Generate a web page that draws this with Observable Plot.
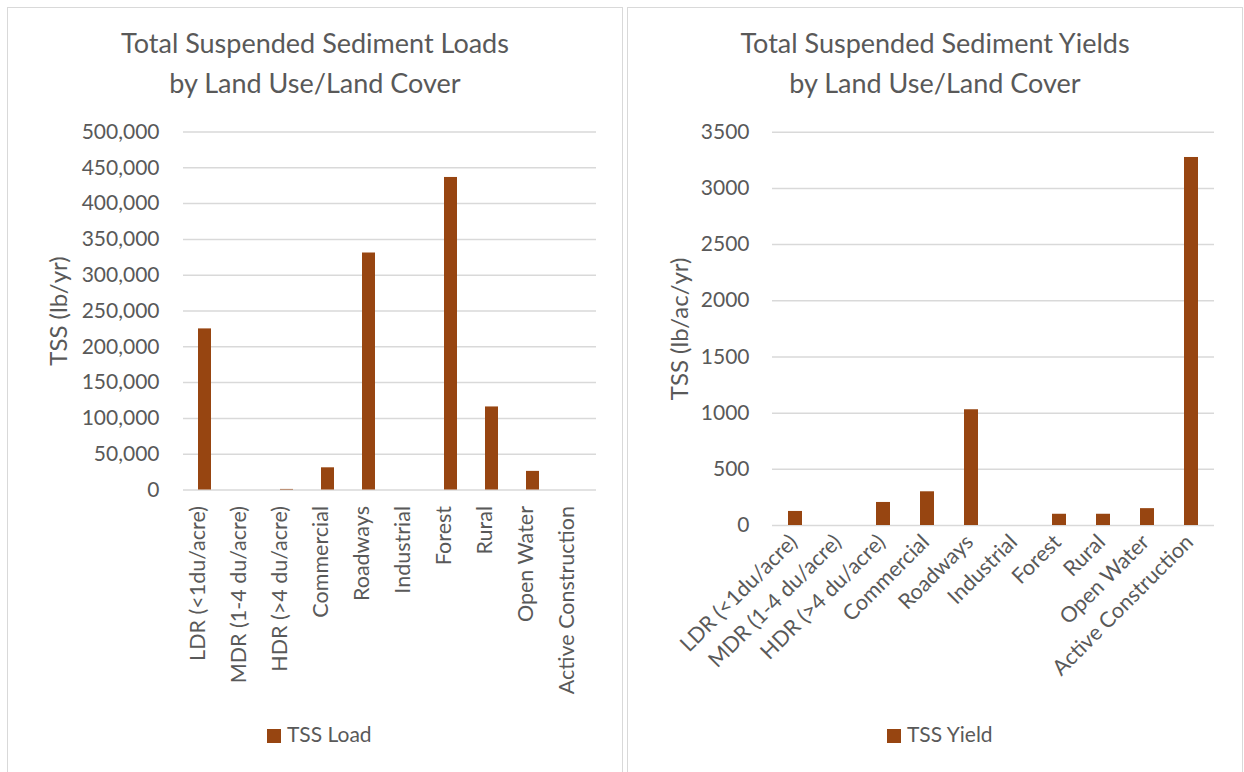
<!DOCTYPE html>
<html>
<head>
<meta charset="utf-8">
<script src="https://cdn.jsdelivr.net/npm/d3@7"></script>
<script src="https://cdn.jsdelivr.net/npm/@observablehq/plot@0.6"></script>
<style>
  html, body { margin: 0; padding: 0; background: #fff; }
  #root { position: relative; width: 1244px; height: 772px; overflow: hidden; font-family: Lato, "Open Sans", sans-serif; color: #595959; }
  .panel { position: absolute; top: 7px; width: 616px; height: 800px; box-sizing: border-box; border: 1px solid #d9d9d9; }
  .title { position: absolute; top: 22.5px; width: 616px; text-align: center; font-size: 27px; line-height: 40px; color: #595959; }
  .chart { position: absolute; top: 0; }
  .legend { position: absolute; top: 724px; font-size: 21px; line-height: 20px; color: #595959; white-space: nowrap; }
  .legend .sw { position: absolute; left: 0; top: 5px; width: 14px; height: 14px; }
  .legend .lb { position: absolute; left: 20px; top: 0; }
</style>
</head>
<body>
<div id="root">
  <div class="panel" style="left:7px"></div>
  <div class="panel" style="left:627px"></div>
  <div class="title" style="left:7px">Total Suspended Sediment Loads<br>by Land Use/Land Cover</div>
  <div class="title" style="left:627px">Total Suspended Sediment Yields<br>by Land Use/Land Cover</div>
  <div class="chart" id="left" style="left:0px"></div>
  <div class="chart" id="right" style="left:622px"></div>
  <div class="legend" style="left:267px"><span class="sw" id="sw1"></span><span class="lb">TSS Load</span></div>
  <div class="legend" style="left:887px"><span class="sw" id="sw2"></span><span class="lb">TSS Yield</span></div>
</div>
<script>
const categories = ["LDR (<1du/acre)", "MDR (1-4 du/acre)", "HDR (>4 du/acre)", "Commercial", "Roadways", "Industrial", "Forest", "Rural", "Open Water", "Active Construction"];
const loadValues = [225000, 0, 800, 31000, 331000, 0, 436500, 116000, 26000, 0];
const yieldValues = [125, 0, 205, 300, 1030, 0, 100, 100, 150, 3275];
const loadTicks = [0, 50000, 100000, 150000, 200000, 250000, 300000, 350000, 400000, 450000, 500000];
const yieldTicks = [0, 500, 1000, 1500, 2000, 2500, 3000, 3500];
const seriesNames = ["TSS Load", "TSS Yield"];
const axisTitles = ["TSS (lb/yr)", "TSS (lb/ac/yr)"];

const barColor = "#974511";
const gridColor = "#d9d9d9";
const textColor = "#595959";

document.getElementById("sw1").style.background = barColor;
document.getElementById("sw2").style.background = barColor;

const loadData = categories.map((c, i) => ({cat: c, value: loadValues[i]}));
const yieldData = categories.map((c, i) => ({cat: c, value: yieldValues[i]}));

const style = {fontFamily: "Lato, 'Open Sans', sans-serif", fontSize: "21px", color: textColor, background: "transparent", overflow: "visible"};

const leftPlot = Plot.plot({
  width: 622, height: 772,
  marginLeft: 183, marginRight: 26, marginTop: 131.5, marginBottom: 282.5,
  style,
  x: {domain: categories, paddingInner: 0.68, paddingOuter: 0.34, axis: null},
  y: {domain: [0, 500000], axis: null},
  marks: [
    Plot.ruleY(loadTicks, {stroke: gridColor, strokeWidth: 1.5}),
    Plot.barY(loadData, {x: "cat", y: "value", fill: barColor}),
    Plot.axisY({ticks: loadTicks, tickSize: 0, tickPadding: 24, tickFormat: d3.format(","), label: null, fontSize: 21, fill: textColor}),
    Plot.text(categories, {x: d => d, frameAnchor: "bottom", rotate: -90, textAnchor: "end", dy: 16, fontSize: 21.5, fill: textColor}),
    Plot.text([axisTitles[0]], {frameAnchor: "left", rotate: -90, textAnchor: "middle", dx: -124, fontSize: 24, fill: textColor})
  ]
});
document.getElementById("left").appendChild(leftPlot);

const rightPlot = Plot.plot({
  width: 622, height: 772,
  marginLeft: 150, marginRight: 30, marginTop: 131.7, marginBottom: 247,
  style,
  x: {domain: categories, paddingInner: 0.68, paddingOuter: 0.34, axis: null},
  y: {domain: [0, 3500], axis: null},
  marks: [
    Plot.ruleY(yieldTicks, {stroke: gridColor, strokeWidth: 1.5}),
    Plot.barY(yieldData, {x: "cat", y: "value", fill: barColor}),
    Plot.axisY({ticks: yieldTicks, tickSize: 0, tickPadding: 23, tickFormat: d3.format("d"), label: null, fontSize: 21, fill: textColor}),
    Plot.text(categories, {x: d => d, frameAnchor: "bottom", rotate: -45, textAnchor: "end", dx: 3, dy: 18, fontSize: 21.5, fill: textColor}),
    Plot.text([axisTitles[1]], {frameAnchor: "left", rotate: -90, textAnchor: "middle", dx: -92, fontSize: 24, fill: textColor})
  ]
});
document.getElementById("right").appendChild(rightPlot);
</script>
</body>
</html>
